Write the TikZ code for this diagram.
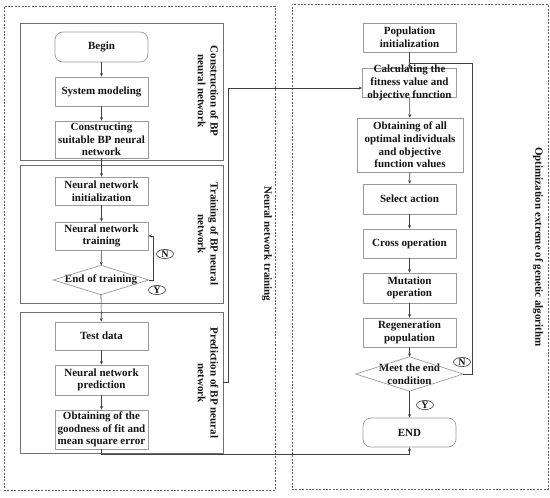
\documentclass[tikz,border=0pt]{standalone}
\usepackage{fontspec}
\setmainfont{Liberation Serif}
\usetikzlibrary{arrows.meta,shapes.geometric}
\definecolor{boxc}{HTML}{9A9A9A}
\definecolor{secc}{HTML}{707070}
\definecolor{dashc}{HTML}{606060}
\definecolor{linec}{HTML}{404040}
\definecolor{txtc}{HTML}{141414}
\begin{document}
\begin{tikzpicture}[x=1pt,y=-1pt,
  font=\bfseries\fontsize{11}{12.7}\selectfont, text=txtc,
  proc/.style={draw=boxc, line width=0.7pt, align=center, minimum width=93pt, minimum height=29pt, inner sep=1pt},
  term/.style={proc, rounded corners=8pt},
  dec/.style={align=center, inner sep=0pt},
  decline/.style={draw=boxc, line width=0.7pt},
  sec/.style={draw=secc, line width=0.8pt, minimum width=203pt, inner sep=0pt},
  outer/.style={draw=dashc, dash pattern=on 2pt off 1.4pt, line width=0.6pt, inner sep=0pt},
  lab/.style={rotate=-90, align=center, inner sep=0pt},
  yn/.style={ellipse, draw=linec, line width=0.6pt, inner sep=0pt, minimum width=17pt, minimum height=8pt, text height=6.5pt, text depth=0pt, font=\bfseries\fontsize{10}{10}\selectfont},
  flow/.style={draw=linec, line width=0.6pt, -{Stealth[length=3.5pt,width=3pt]}},
  link/.style={draw=linec, line width=0.6pt}
]
\useasboundingbox (0,0) rectangle (550,498);

% outer dashed frames
\node[outer, minimum width=271pt, minimum height=484pt] (outL) at (139.5,248) {};
\node[outer, minimum width=256pt, minimum height=485pt] (outR) at (420,246.5) {};

% section frames
\node[sec, minimum height=137pt] (sec1) at (121.5,91.5) {};
\node[sec, minimum height=138pt] (sec2) at (121.5,234) {};
\node[sec, minimum height=141pt] (sec3) at (121.5,382.5) {};

% section labels
\node[lab] (lab1) at (208,91) {Construction of BP\\neural network};
\node[lab] (lab2) at (208,234) {Training of BP neural\\network};
\node[lab] (lab3) at (208,383) {Prediction of BP neural\\network};
\node[lab] (labN) at (267,244) {Neural network training};
\node[lab] (labG) at (538,247) {Optimization extreme of genetic algorithm};

% left column
\node[term, minimum height=30pt] (begin) at (101.5,47) {Begin};
\node[proc] (sys) at (101.5,91.5) {System modeling};
\node[proc, minimum height=37pt] (cons) at (101.5,139.5) {Constructing\\suitable BP neural\\network};
\node[proc, minimum height=28pt] (init) at (101.5,191) {Neural network\\initialization};
\node[proc, minimum height=28pt] (train) at (101.5,236) {Neural network\\training};
\node[dec, minimum width=95pt, minimum height=29pt] (endt) at (101,280) {End of training};
\draw[decline] (endt.north) -- (endt.east) -- (endt.south) -- (endt.west) -- cycle;
\node[proc, minimum height=28pt] (test) at (101.5,336) {Test data};
\node[proc, minimum height=30pt] (pred) at (101.5,380) {Neural network\\prediction};
\node[proc, minimum height=39pt] (good) at (101.5,429.5) {Obtaining of the\\goodness of fit and\\mean square error};

% right column
\node[proc] (pop) at (409.5,37.5) {Population\\initialization};
\node[proc, inner ysep=4.5pt] (calc) at (409.5,83) {\parbox[c][20pt][c]{92pt}{\centering Calculating the\\fitness value and\\objective function}};
\node[proc, minimum width=106pt, minimum height=54pt] (obt) at (410,145) {Obtaining of all\\optimal individuals\\and objective\\function values};
\node[proc, minimum height=30pt] (sel) at (409.5,199) {Select action};
\node[proc] (cross) at (409.5,243.5) {Cross operation};
\node[proc, minimum height=30pt] (mut) at (409.5,288) {Mutation\\operation};
\node[proc] (regen) at (409.5,332.5) {Regeneration\\population};
\node[dec, minimum width=107pt, minimum height=34pt] (meet) at (409.5,374) {Meet the end\\condition};
\draw[decline] (meet.north) -- (meet.east) -- (meet.south) -- (meet.west) -- cycle;
\node[term] (fin) at (409.5,432.5) {END};

% Y / N marks
\node[yn] (n1) at (165,254) {N};
\node[yn] (y1) at (157,290) {Y};
\node[yn] (n2) at (462,362) {N};
\node[yn] (y2) at (425,405) {Y};

\coordinate (join) at (409.5,63);

% left flow
\draw[flow] (begin) -- (sys);
\draw[flow] (sys) -- (cons);
\draw[flow] (cons) -- (init);
\draw[flow] (init) -- (train);
\draw[flow] (train) -- (endt);
\draw[flow] (endt.south) -- (test);
\draw[flow] (test) -- (pred);
\draw[flow] (pred) -- (good);
\draw[flow] (endt.east) -- ++(5,0) |- (train.east);

% cross links
\draw[flow] (sec3.east) -- ++(5,0) |- ([yshift=-5pt]calc.west);
\draw[flow] (good.south) -- ++(0,4.5) -| (fin.south);

% right flow
\draw[flow] (pop) -- (calc);
\draw[flow] (calc) -- (obt);
\draw[flow] (obt) -- (sel);
\draw[flow] (sel) -- (cross);
\draw[flow] (cross) -- (mut);
\draw[flow] (mut) -- (regen);
\draw[flow] (regen) -- (meet);
\draw[flow] (meet) -- (fin);
\draw[link] (meet.east) -- ++(9,0) |- (join);
\end{tikzpicture}
\end{document}
